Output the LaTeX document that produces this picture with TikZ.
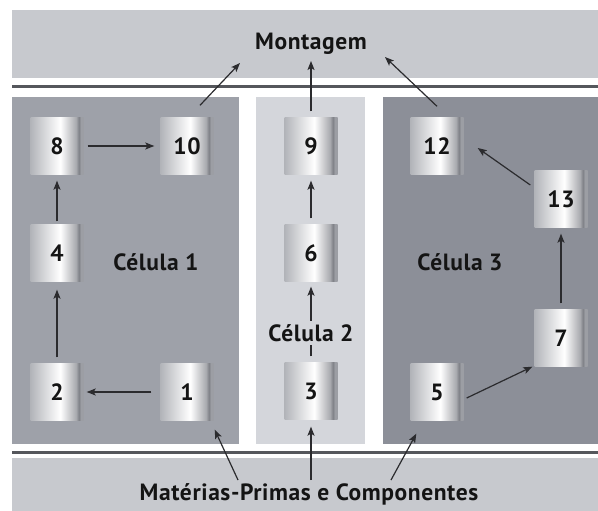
\documentclass[tikz,border=0pt]{standalone}
\usepackage{fontspec}
\setmainfont{PT Sans}[LetterSpace=2.5]
\usetikzlibrary{arrows.meta,calc}

\definecolor{bandgray}{HTML}{C7C9CE}
\definecolor{cellone}{HTML}{9EA1A9}
\definecolor{celltwo}{HTML}{D4D6DB}
\definecolor{cellthree}{HTML}{8C8F98}
\definecolor{rulegray}{HTML}{55575C}
\definecolor{inkgray}{HTML}{2B2B2E}
\definecolor{cylleft}{HTML}{B2B4B9}
\definecolor{cyldark}{HTML}{7A7C83}
\definecolor{cylrim}{HTML}{9C9EA4}

% metallic cylinder look, varying left to right
\pgfdeclarehorizontalshading{cylshade}{100bp}{%
  color(0bp)=(cylleft); color(25bp)=(cylleft);
  color(53bp)=(white);
  color(68bp)=(cyldark!65!white);
  color(71bp)=(cyldark);
  color(72bp)=(cylrim); color(75bp)=(cylrim); color(100bp)=(cylrim)}

\tikzset{
  machine/.style={shading=cylshade, minimum width=53pt, minimum height=57pt,
    inner sep=0pt, font=\fontsize{23.5}{26}\selectfont\bfseries, text=black!92},
  label/.style={font=\fontsize{23.5}{26}\selectfont\bfseries, text=black!92, inner sep=1pt},
  arr/.style={draw=inkgray, line width=1.2pt, -{Stealth[length=9pt,width=7pt,inset=2pt]}},
  rulebar/.style={draw=rulegray, line width=2.6pt}
}

\begin{document}
\begin{tikzpicture}[x=1pt,y=-1pt]
\useasboundingbox (0,0) rectangle (598,511);

% bands and cells
\fill[bandgray] (12,10) rectangle (598,78);
\draw[rulebar] (12,86.5) -- (598,86.5);
\fill[cellone] (12,97) rectangle (239,444);
\fill[celltwo] (256,97) rectangle (365,444);
\fill[cellthree] (383,97) rectangle (598,444);
\draw[rulebar] (12,452.5) -- (598,452.5);
\fill[bandgray] (12,458) rectangle (598,511);

% texts
\node[label] (mont) at (311,44) {Montagem};
\node[label] (mat) at (309,494) {Matérias-Primas e Componentes};
\node[label] (c1) at (156,262) {Célula 1};
\node[label] (c3) at (460,262) {Célula 3};

% machines
\node[machine] (n8) at (57,146) {8};
\node[machine] (n10) at (187,146) {10};
\node[machine] (n4) at (57,253) {4};
\node[machine] (n2) at (57,392) {2};
\node[machine] (n1) at (187,392) {1};
\node[machine] (n9) at (311,146) {9};
\node[machine] (n6) at (311,253) {6};
\node[machine] (n3) at (311,391) {3};
\node[machine] (n12) at (437,146) {12};
\node[machine] (n13) at (561,199) {13};
\node[machine] (n7) at (561,338) {7};
\node[machine] (n5) at (437,392) {5};

% arrow ends at the two bands
\coordinate (mA) at (240,63);
\coordinate (mB) at (311,61);
\coordinate (mC) at (385,57);
\coordinate (rA) at (238,480);
\coordinate (rB) at (311,480);
\coordinate (rC) at (391,480);

% flows inside cell 1
\draw[arr, shorten <=4pt, shorten >=6pt] (n8) -- (n10);
\draw[arr, shorten <=3pt, shorten >=6pt] (n4) -- (n8);
\draw[arr, shorten <=6pt, shorten >=8pt] (n2) -- (n4);
\draw[arr, shorten <=9pt, shorten >=3pt] (n1) -- (n2);

% flows inside cell 2
\draw[arr, shorten <=6pt, shorten >=6pt] (n6) -- (n9);
\draw[arr, shorten <=6pt, shorten >=5pt] (n3) -- (n6);
\node[label, fill=celltwo, inner sep=3pt] (c2) at (311,333) {Célula 2};

% flows inside cell 3
\draw[arr] ($(n5.east)+(3,6)$) -- ($(n7.south west)+(-2,0)$);
\draw[arr, shorten <=6pt, shorten >=6pt] (n7) -- (n13);
\draw[arr] ($(n13.west)+(-4,-14)$) -- ($(n12.east)+(14,2)$);

% to assembly
\draw[arr] ($(n10.north)+(13,-12)$) -- (mA);
\draw[arr] ($(n9.north)+(0,-6)$) -- (mB);
\draw[arr] ($(n12.north)+(0,-11)$) -- (mC);

% from raw materials
\draw[arr] (rA) -- ($(n1.south east)+(1,9)$);
\draw[arr] (rB) -- ($(n3.south)+(0,7)$);
\draw[arr] (rC) -- ($(n5.south west)+(6,13)$);
\end{tikzpicture}
\end{document}
